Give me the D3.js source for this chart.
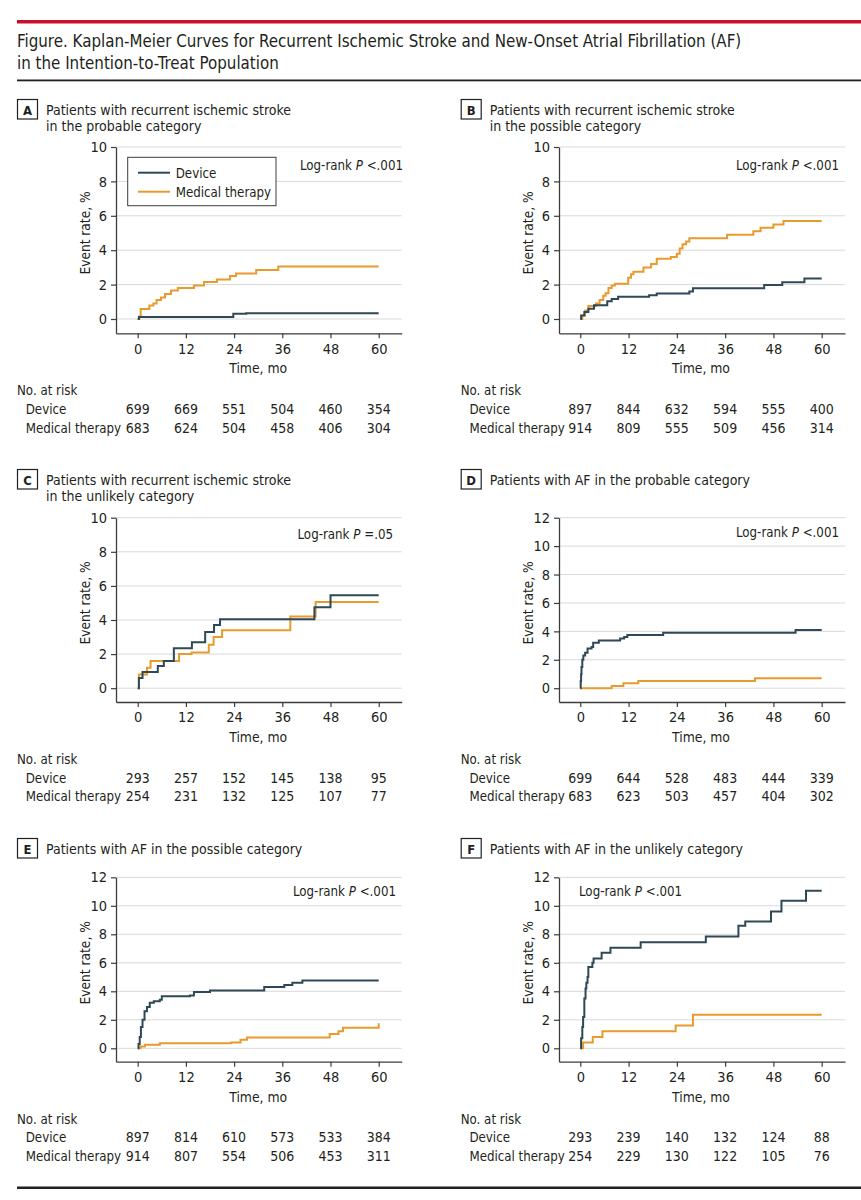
<!DOCTYPE html>
<html>
<head>
<meta charset="utf-8">
<script src="https://cdn.jsdelivr.net/npm/d3@7"></script>
<style>
  body { margin: 0; background: #fff; }
  svg text { font-family: "DejaVu Sans Condensed", "DejaVu Sans", sans-serif; fill: #231f20; }
</style>
</head>
<body>
<svg id="fig"></svg>
<script>
// ---- data ----
const months = [0, 12, 24, 36, 48, 60]
const strokeTicks = [0, 2, 4, 6, 8, 10]
const afTicks = [0, 2, 4, 6, 8, 10, 12]

// step points: [month, event rate %]
const deviceA = [[0,0],[0.3,0.12],[23.8,0.3],[27,0.33],[60,0.33]]
const medicalA = [[0,0],[0.4,0.15],[0.75,0.58],[2.9,0.78],[3.9,0.9],[4.7,1.1],[5.8,1.25],[6.8,1.45],[8.3,1.65],[10,1.8],[14,1.95],[16.5,2.15],[19.7,2.3],[23,2.5],[24.5,2.65],[29.5,2.85],[35,3.05],[60,3.05]]

const deviceB = [[0,0],[0.2,0.2],[1,0.4],[2,0.6],[3.4,0.8],[6.7,1.03],[7.8,1.17],[9.4,1.3],[17.1,1.38],[19,1.48],[27.1,1.6],[28,1.79],[45.7,1.98],[50.2,2.14],[55.7,2.35],[60,2.35]]
const medicalB = [[0,0],[0.5,0.2],[1.2,0.5],[2,0.75],[3.9,0.9],[4.8,1.1],[5.7,1.35],[6.3,1.5],[7,1.8],[7.8,1.95],[8.6,2.05],[11.9,2.4],[12.6,2.6],[13.2,2.75],[15.7,3.0],[17.6,3.2],[19,3.5],[22.5,3.6],[24,3.8],[24.7,4.1],[25.4,4.35],[26.3,4.5],[27.1,4.7],[36.5,4.9],[43,5.1],[44.8,5.3],[48,5.5],[50.5,5.7],[60,5.7]]

const deviceC = [[0,0],[0.3,0.6],[1.2,0.95],[5,1.3],[6.5,1.6],[9,2.35],[13.5,2.7],[16.8,3.3],[19,3.7],[20.5,4.05],[44,4.75],[48,5.45],[60,5.45]]
const medicalC = [[0,0],[0.3,0.8],[2.3,1.2],[3.2,1.6],[10.3,2.0],[13.4,2.1],[17.7,2.55],[18.9,3.0],[21,3.4],[38,4.2],[44.3,5.05],[60,5.05]]

const deviceD = [[0,0],[0.1,0.5],[0.2,1.0],[0.3,1.5],[0.5,2.0],[0.75,2.3],[1.2,2.5],[1.8,2.8],[2.8,2.9],[3.2,3.2],[4.6,3.35],[9.9,3.5],[10.9,3.6],[11.7,3.75],[20.6,3.9],[53.5,4.1],[60,4.1]]
const medicalD = [[0,0],[7.8,0.15],[10.7,0.35],[14.4,0.5],[43.4,0.7],[60,0.7]]

const deviceE = [[0,0],[0.2,0.3],[0.5,0.8],[0.8,1.5],[1.2,2.0],[1.7,2.6],[2.3,2.9],[3,3.2],[4,3.3],[5.5,3.4],[6,3.65],[13,3.7],[14,3.95],[18,4.05],[31.5,4.3],[36.5,4.45],[38.5,4.6],[41,4.75],[60,4.75]]
const medicalE = [[0,0],[0.7,0.12],[1.8,0.25],[5.5,0.35],[23.3,0.4],[25.6,0.6],[27.2,0.75],[47.8,1.0],[50,1.2],[51.1,1.45],[60,1.75]]

const deviceF = [[0,0],[0.2,0.7],[0.5,1.5],[0.7,2.2],[1,3.5],[1.3,4.2],[1.5,4.6],[1.8,5.0],[2,5.7],[3,6.0],[3.3,6.3],[5.3,6.7],[7.5,7.05],[15,7.45],[31.2,7.85],[39.3,8.6],[41,8.9],[47.4,9.6],[50,10.35],[56.1,11.05],[60,11.05]]
const medicalF = [[0,0],[0.7,0.4],[3.1,0.8],[5.5,1.2],[23.7,1.6],[28,2.35],[60,2.35]]

// numbers at risk at 0, 12, 24, 36, 48, 60 mo
const riskDeviceA = [699, 669, 551, 504, 460, 354]
const riskMedicalA = [683, 624, 504, 458, 406, 304]
const riskDeviceB = [897, 844, 632, 594, 555, 400]
const riskMedicalB = [914, 809, 555, 509, 456, 314]
const riskDeviceC = [293, 257, 152, 145, 138, 95]
const riskMedicalC = [254, 231, 132, 125, 107, 77]
const riskDeviceD = [699, 644, 528, 483, 444, 339]
const riskMedicalD = [683, 623, 503, 457, 404, 302]
const riskDeviceE = [897, 814, 610, 573, 533, 384]
const riskMedicalE = [914, 807, 554, 506, 453, 311]
const riskDeviceF = [293, 239, 140, 132, 124, 88]
const riskMedicalF = [254, 229, 130, 122, 105, 76]

const figureTitle = [
  "Figure. Kaplan-Meier Curves for Recurrent Ischemic Stroke and New-Onset Atrial Fibrillation (AF)",
  "in the Intention-to-Treat Population"
]
const seriesNames = ["Device", "Medical therapy"]

// ---- layout ----
const colors = { device: "#2f4856", medical: "#e99a2c", grid: "#d9d9d9", axis: "#3c3c3c" }
const fontSize = { title: 16.8, header: 14, label: 13.2, tick: 14.5, risk: 14 }
const columns = [
  { box: 17, axisX: 116, x0: 137.7, x60: 378.7, right: 401.7 },
  { box: 460.7, axisX: 559, x0: 580.3, x60: 821.7, right: 845 }
]
const rows = [
  { header: 115, top: 147, zero: 319, axisY: 333.3 },
  { header: 485, top: 517.7, zero: 688.2, axisY: 702 },
  { header: 854, top: 877.3, zero: 1048.3, axisY: 1061.7 }
]

const panels = [
  { letter: "A", col: 0, row: 0, title: ["Patients with recurrent ischemic stroke", "in the probable category"],
    device: deviceA, medical: medicalA, risk: [riskDeviceA, riskMedicalA], ticks: strokeTicks,
    p: "<.001", px: 403, pdy: 22.5, legend: true },
  { letter: "B", col: 1, row: 0, title: ["Patients with recurrent ischemic stroke", "in the possible category"],
    device: deviceB, medical: medicalB, risk: [riskDeviceB, riskMedicalB], ticks: strokeTicks,
    p: "<.001", px: 839, pdy: 23 },
  { letter: "C", col: 0, row: 1, title: ["Patients with recurrent ischemic stroke", "in the unlikely category"],
    device: deviceC, medical: medicalC, risk: [riskDeviceC, riskMedicalC], ticks: strokeTicks,
    p: "=.05", px: 393, pdy: 21.5 },
  { letter: "D", col: 1, row: 1, title: ["Patients with AF in the probable category"],
    device: deviceD, medical: medicalD, risk: [riskDeviceD, riskMedicalD], ticks: afTicks,
    p: "<.001", px: 839, pdy: 19.5 },
  { letter: "E", col: 0, row: 2, title: ["Patients with AF in the possible category"],
    device: deviceE, medical: medicalE, risk: [riskDeviceE, riskMedicalE], ticks: afTicks,
    p: "<.001", px: 396, pdy: 19 },
  { letter: "F", col: 1, row: 2, title: ["Patients with AF in the unlikely category"],
    device: deviceF, medical: medicalF, risk: [riskDeviceF, riskMedicalF], ticks: afTicks,
    p: "<.001", px: 579, pdy: 19, anchor: "start" }
]

const svg = d3.select("#fig")
  .attr("width", 861)
  .attr("height", 1200)

renderTitle(svg)
panels.forEach(p => renderPanel(svg, p))

function renderTitle(svg) {
  svg.append("rect")
    .attr("x", 17).attr("y", 20)
    .attr("width", 844).attr("height", 3.5)
    .attr("fill", "#c8102e")

  svg.append("g")
    .selectAll("text")
    .data(figureTitle)
    .join("text")
      .attr("x", 17)
      .attr("y", (d, i) => 46.5 + i * 22)
      .attr("font-size", fontSize.title)
      .text(d => d)

  svg.append("rect")
    .attr("x", 17).attr("y", 79.5)
    .attr("width", 844).attr("height", 1.8)
    .attr("fill", "#231f20")

  svg.append("rect")
    .attr("x", 17).attr("y", 1186.5)
    .attr("width", 844).attr("height", 2.5)
    .attr("fill", "#231f20")
}

function renderPanel(svg, p) {
  const c = columns[p.col]
  const r = rows[p.row]
  const top = d3.max(p.ticks)

  // scales pinned at 0 / 60 mo and 0 / top %, then stretched to the axis ends
  const x = d3.scaleLinear().domain([0, 60]).range([c.x0, c.x60])
  x.domain([x.invert(c.axisX), x.invert(c.right)]).range([c.axisX, c.right])
  const y = d3.scaleLinear().domain([0, top]).range([r.zero, r.top])
  y.domain([y.invert(r.axisY), top]).range([r.axisY, r.top])

  renderHeader(svg, p, c, r)

  // gridlines
  svg.append("g")
    .selectAll("line")
    .data(p.ticks)
    .join("line")
      .attr("x1", c.axisX).attr("x2", c.right)
      .attr("y1", d => y(d)).attr("y2", d => y(d))
      .attr("stroke", colors.grid)
      .attr("stroke-width", 1)

  const line = d3.line()
    .x(d => x(d[0]))
    .y(d => y(d[1]))
    .curve(d3.curveStepAfter)

  svg.append("path")
    .attr("d", line(p.medical))
    .attr("fill", "none")
    .attr("stroke", colors.medical)
    .attr("stroke-width", 2)
  svg.append("path")
    .attr("d", line(p.device))
    .attr("fill", "none")
    .attr("stroke", colors.device)
    .attr("stroke-width", 2)

  renderAxes(svg, x, y, p, c, r)

  // log-rank note
  const note = svg.append("text")
    .attr("x", p.px)
    .attr("y", r.top + p.pdy)
    .attr("font-size", fontSize.label)
    .attr("text-anchor", p.anchor || "end")
  note.append("tspan").text("Log-rank ")
  note.append("tspan").attr("font-style", "italic").text("P")
  note.append("tspan").text(" " + p.p)

  if (p.legend) renderLegend(svg, c, r)

  renderRiskTable(svg, x, p, c, r)
}

function renderHeader(svg, p, c, r) {
  svg.append("rect")
    .attr("x", c.box + 0.5).attr("y", r.header - 15.5)
    .attr("width", 20).attr("height", 19.5)
    .attr("fill", "none")
    .attr("stroke", "#231f20")
    .attr("stroke-width", 1.2)
  svg.append("text")
    .attr("x", c.box + 10.5).attr("y", r.header - 0.5)
    .attr("text-anchor", "middle")
    .attr("font-size", 13)
    .attr("font-weight", "bold")
    .text(p.letter)

  svg.append("g")
    .selectAll("text")
    .data(p.title)
    .join("text")
      .attr("x", c.box + 29)
      .attr("y", (d, i) => r.header + i * 16)
      .attr("font-size", fontSize.header)
      .text(d => d)
}

function renderAxes(svg, x, y, p, c, r) {
  svg.append("g")
    .attr("transform", `translate(${c.axisX}, 0)`)
    .call(d3.axisLeft(y).tickValues(p.ticks).tickSize(5).tickSizeOuter(0).tickPadding(4))
    .call(g => g.select(".domain").attr("stroke", colors.axis).attr("stroke-width", 1.3))
    .call(g => g.selectAll(".tick line").attr("stroke", colors.axis).attr("stroke-width", 1.2))
    .call(g => g.selectAll(".tick text")
      .attr("font-family", null)
      .attr("font-size", fontSize.tick)
      .attr("fill", "#231f20"))

  svg.append("g")
    .attr("transform", `translate(0, ${r.axisY})`)
    .call(d3.axisBottom(x).tickValues(months).tickSize(5).tickSizeOuter(0).tickPadding(5))
    .call(g => g.select(".domain").attr("stroke", colors.axis).attr("stroke-width", 1.3))
    .call(g => g.selectAll(".tick line").attr("stroke", colors.axis).attr("stroke-width", 1.2))
    .call(g => g.selectAll(".tick text")
      .attr("font-family", null)
      .attr("font-size", fontSize.tick)
      .attr("fill", "#231f20"))

  svg.append("text")
    .attr("x", (c.x0 + c.x60) / 2)
    .attr("y", r.axisY + 40)
    .attr("text-anchor", "middle")
    .attr("font-size", fontSize.label + 0.6)
    .text("Time, mo")

  svg.append("text")
    .attr("transform", `translate(${c.axisX - 26}, ${(r.top + r.zero) / 2}) rotate(-90)`)
    .attr("text-anchor", "middle")
    .attr("font-size", fontSize.label + 0.4)
    .text("Event rate, %")
}

function renderLegend(svg, c, r) {
  const lg = svg.append("g")
  lg.append("rect")
    .attr("x", c.axisX + 11.7).attr("y", r.top + 10.3)
    .attr("width", 148.3).attr("height", 48.4)
    .attr("fill", "#fff")
    .attr("stroke", "#3c3c3c")
    .attr("stroke-width", 1)

  const items = lg.selectAll("g")
    .data(seriesNames)
    .join("g")
    .attr("transform", (d, i) => `translate(${c.axisX + 22}, ${r.top + 25.7 + i * 19})`)
  items.append("line")
    .attr("x1", 0).attr("x2", 32)
    .attr("stroke", (d, i) => i === 0 ? colors.device : colors.medical)
    .attr("stroke-width", 2)
  items.append("text")
    .attr("x", 37.7).attr("y", 5)
    .attr("font-size", fontSize.label)
    .text(d => d)
}

function renderRiskTable(svg, x, p, c, r) {
  svg.append("text")
    .attr("x", c.box).attr("y", r.axisY + 62)
    .attr("font-size", fontSize.label)
    .text("No. at risk")

  p.risk.forEach((counts, i) => {
    const rowY = r.axisY + 80.5 + i * 18.7
    svg.append("text")
      .attr("x", c.box + 8.7).attr("y", rowY)
      .attr("font-size", fontSize.label)
      .text(seriesNames[i])
    svg.append("g")
      .selectAll("text")
      .data(counts)
      .join("text")
        .attr("x", (d, j) => x(months[j]))
        .attr("y", rowY)
        .attr("text-anchor", "middle")
        .attr("font-size", fontSize.risk)
        .text(d => d)
  })
}
</script>
</body>
</html>
